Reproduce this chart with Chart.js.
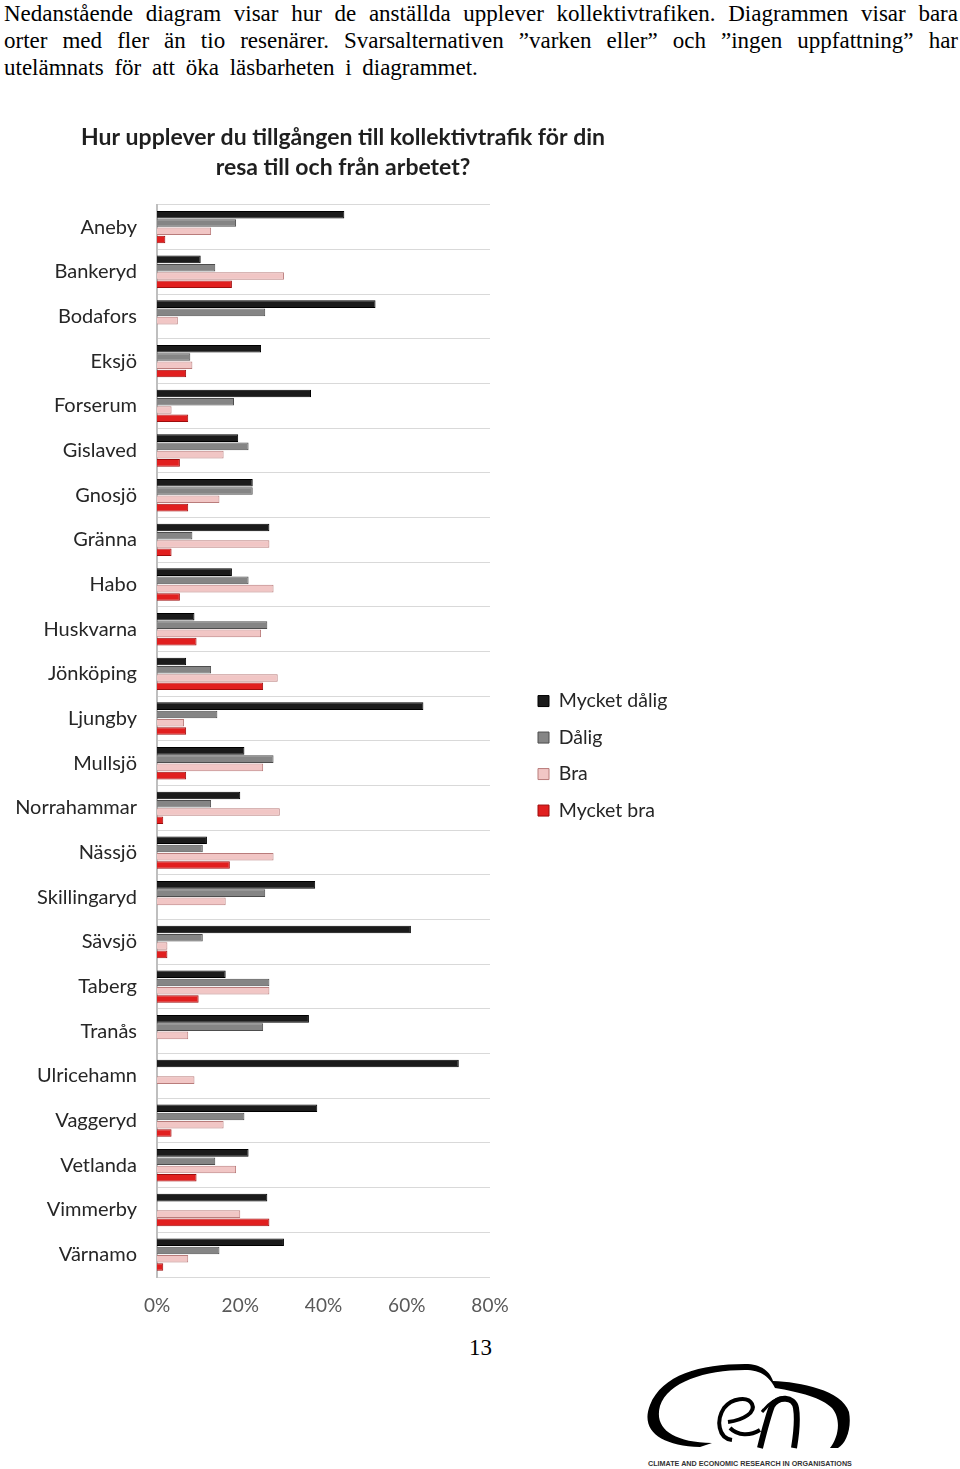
<!DOCTYPE html>
<html>
<head>
<meta charset="utf-8">
<script src="https://cdn.jsdelivr.net/npm/chart.js@4.4.1/dist/chart.umd.min.js"></script>
<style>
  html, body { margin: 0; padding: 0; background: #fff; width: 960px; height: 1469px; overflow: hidden; }
  .para { position: absolute; left: 4px; width: 954px; font-family: "Liberation Serif", "Times New Roman", serif; font-size: 23px; color: #000; line-height: 27px; white-space: nowrap; }
  .just { text-align: justify; text-align-last: justify; white-space: normal; }
  #wrap { position: absolute; left: 0; top: 110px; width: 686px; height: 1220px; }
  #pageno { position: absolute; left: 469px; top: 1335px; font-family: "Liberation Serif", serif; font-size: 23px; }
  #logo { position: absolute; left: 620px; top: 1350px; }
  #logotext { position: absolute; left: 648px; top: 1459px; font-family: "Liberation Sans", Arial, sans-serif; font-size: 7.2px; font-weight: bold; color: #333; white-space: nowrap; }
</style>
</head>
<body>
<div class="para just" style="top:0px;">Nedanstående diagram visar hur de anställda upplever kollektivtrafiken. Diagrammen visar bara</div>
<div class="para just" style="top:27px;">orter med fler än tio resenärer. Svarsalternativen ”varken eller” och ”ingen uppfattning” har</div>
<div class="para" style="top:54px; word-spacing:5px;">utelämnats för att öka läsbarheten i diagrammet.</div>

<div id="wrap"><canvas id="c"></canvas></div>

<div id="pageno">13</div>

<svg id="logo" width="260" height="110" viewBox="620 1350 260 110">
  <path d="M 700 1447 C 660 1446 640 1430 650 1405 C 662 1375 700 1364 745 1364 C 762 1364 770 1372 773 1381 C 800 1382 842 1390 849 1412 C 852 1428 846 1444 838 1448 L 830 1448 C 838 1438 842 1420 832 1408 C 822 1398 800 1392 775 1388 C 770 1378 762 1370 745 1370 C 705 1370 668 1382 660 1406 C 654 1428 672 1442 712 1443 Z" fill="#000"/>
  <path d="M 732 1440 C 718 1438 716 1420 724 1408 C 732 1398 748 1396 752 1404 C 756 1412 744 1420 728 1422 M 730 1428 C 738 1436 750 1436 760 1430" fill="none" stroke="#000" stroke-width="4"/>
  <path d="M 760 1448 C 764 1432 768 1416 772 1406 C 778 1396 794 1396 796 1408 C 798 1420 796 1436 794 1448" fill="none" stroke="#000" stroke-width="6"/>
  <path d="M 762 1412 C 770 1402 778 1398 784 1398" fill="none" stroke="#000" stroke-width="3"/>
</svg>
<div id="logotext">CLIMATE AND ECONOMIC RESEARCH IN ORGANISATIONS</div>

<script>
const categories = ["Aneby","Bankeryd","Bodafors","Eksjö","Forserum","Gislaved","Gnosjö","Gränna","Habo","Huskvarna","Jönköping","Ljungby","Mullsjö","Norrahammar","Nässjö","Skillingaryd","Sävsjö","Taberg","Tranås","Ulricehamn","Vaggeryd","Vetlanda","Vimmerby","Värnamo"];
const seriesNames = ["Mycket dålig","Dålig","Bra","Mycket bra"];
const mycketDalig = [45,10.5,52.5,25,37,19.5,23,27,18,9,7,64,21,20,12,38,61,16.5,36.5,72.5,38.5,22,26.5,30.5];
const dalig      = [19,14,26,8,18.5,22,23,8.5,22,26.5,13,14.5,28,13,11,26,11,27,25.5,0,21,14,0,15];
const bra        = [13,30.5,5,8.5,3.5,16,15,27,28,25,29,6.5,25.5,29.5,28,16.5,2.5,27,7.5,9,16,19,20,7.5];
const mycketBra  = [2,18,0,7,7.5,5.5,7.5,3.5,5.5,9.5,25.5,7,7,1.5,17.5,0,2.5,10,0,0,3.5,9.5,27,1.5];
const xTickLabels = ["0%","20%","40%","60%","80%"];
const titleLines = ["Hur upplever du tillgången till kollektivtrafik för din","resa till och från arbetet?"];

const fills   = ["#1b1b1b","#858585","#f1c6c5","#e11f1f"];
const borders = ["#000000","#4d4d4d","#b97c7b","#9e0d0d"];
const seriesData = [mycketDalig, dalig, bra, mycketBra];

const datasets = seriesNames.map((name, i) => ({
  label: name,
  data: seriesData[i],
  backgroundColor: fills[i],
  borderColor: borders[i],
  borderWidth: 1,
  categoryPercentage: 0.74,
  barPercentage: 0.92
}));

const FONT = "Lato, 'Open Sans', sans-serif";

// Legend box: fixed width so the plot ends where the reference's does,
// and its items start a little further right than the box edge.
const legendSpacing = {
  id: 'legendSpacing',
  beforeLayout(chart) {
    const lg = chart.legend;
    if (lg && !lg._fixedFit) {
      const orig = lg.fit.bind(lg);
      lg.fit = function () { orig(); this.width = 196; };
      lg._fixedFit = true;
    }
  },
  afterLayout(chart) {
    const lg = chart.legend;
    if (lg) { lg.left += 31; }
  }
};

new Chart(document.getElementById('c'), {
  type: 'bar',
  data: { labels: categories, datasets },
  plugins: [legendSpacing],
  options: {
    indexAxis: 'y',
    responsive: true,
    maintainAspectRatio: false,
    animation: false,
    layout: { padding: { left: 0, right: 0, top: 0, bottom: 0 } },
    plugins: {
      title: {
        display: true,
        text: titleLines,
        color: '#1f1f1f',
        font: { family: FONT, size: 23, weight: 'bold', lineHeight: 1.3 },
        padding: { top: 13, bottom: 22 }
      },
      legend: {
        position: 'right',
        align: 'center',
        title: { display: true, text: ' ', padding: { top: 0, bottom: 38 }, font: { size: 28 } },
        labels: {
          boxWidth: 11, boxHeight: 11, padding: 17,
          color: '#262626',
          font: { family: FONT, size: 19.5 }
        }
      },
      tooltip: { enabled: false }
    },
    scales: {
      x: {
        min: 0, max: 80,
        ticks: {
          stepSize: 20,
          padding: 17,
          color: '#595959',
          font: { family: FONT, size: 19 },
          callback: (v, i) => xTickLabels[i]
        },
        grid: { display: false, drawTicks: false },
        border: { display: false },
        afterFit: s => { s.height = 53; }
      },
      y: {
        ticks: {
          padding: 20,
          color: '#262626',
          font: { family: FONT, size: 20 }
        },
        grid: { display: true, offset: true, drawTicks: false, color: '#d9d9d9', lineWidth: 1 },
        border: { display: true, color: '#bfbfbf', width: 2 },
        afterFit: s => { s.width = 157; }
      }
    }
  }
});
</script>
</body>
</html>
